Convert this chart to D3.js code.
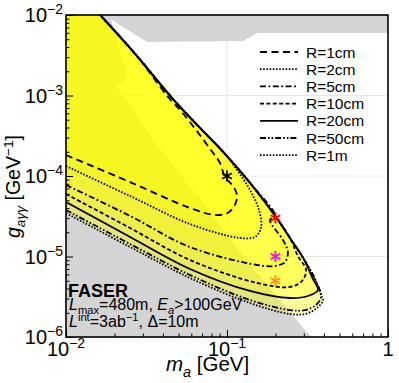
<!DOCTYPE html>
<html>
<head>
<meta charset="utf-8">
<script src="https://cdn.jsdelivr.net/npm/d3@7"></script>
<style>
  body { margin: 0; background: #fff; }
  text { font-family: "Liberation Sans", Arial, sans-serif; fill: #000; }
</style>
</head>
<body>
<script>
"use strict"

// shared upper edge of the sensitivity regions, from the tip up to the top of the frame
const boundary = [[0.389, 3.1e-6], [0.352, 5.25e-6], [0.297, 9.6e-6], [0.246, 1.7e-5], [0.199, 3.2e-5],
                  [0.139, 8.2e-5], [0.0945, 2.0e-4], [0.068, 3.95e-4], [0.0456, 9.3e-4], [0.0272, 3.2e-3], [0.0163, 1e-2]];

// each contour: lower branch, tip and the start of the upper branch (m_a [GeV], g [1/GeV])
const r1cm  = [[0.01, 1.82e-4], [0.025, 8.4e-5], [0.0589, 4.0e-5], [0.0842, 3.28e-5], [0.101, 3.47e-5], [0.112, 4.36e-5],
               [0.1154, 5.8e-5], [0.109, 7.5e-5], [0.0972, 9.7e-5], [0.0905, 1.45e-4], [0.0795, 2.1e-4], [0.0642, 3.73e-4],
               [0.0511, 6.6e-4], [0.043, 9.6e-4]];
const r2cm  = [[0.01, 1.33e-4], [0.025, 5.64e-5], [0.0589, 2.53e-5], [0.12, 1.70e-5], [0.149, 1.75e-5], [0.1626, 2.26e-5],
               [0.158, 3.78e-5], [0.139, 6.7e-5], [0.1154, 1.19e-4]];
const r5cm  = [[0.01, 7.73e-5], [0.025, 3.19e-5], [0.0589, 1.31e-5], [0.1536, 7.84e-6], [0.199, 7.62e-6], [0.229, 8.5e-6],
               [0.239, 1.14e-5], [0.2228, 1.6e-5], [0.185, 2.84e-5]];
const r10cm = [[0.01, 5.98e-5], [0.025, 2.26e-5], [0.0589, 9.05e-6], [0.1536, 4.69e-6], [0.246, 4.18e-6], [0.292, 4.96e-6],
               [0.31, 6.8e-6], [0.276, 1.01e-5]];
const r20cm = [[0.01, 4.75e-5], [0.025, 1.75e-5], [0.0589, 7.0e-6], [0.139, 3.73e-6], [0.246, 3.05e-6], [0.318, 3.23e-6],
               [0.367, 3.84e-6], [0.342, 5.25e-6]];
const r50cm = [[0.01, 3.78e-5], [0.025, 1.43e-5], [0.0589, 5.89e-6], [0.139, 2.88e-6], [0.246, 2.16e-6], [0.305, 2.16e-6],
               [0.357, 2.5e-6], [0.3835, 3.14e-6]];
const r1m   = [[0.01, 3.47e-5], [0.025, 1.31e-5], [0.0589, 5.41e-6], [0.139, 2.64e-6], [0.246, 1.93e-6], [0.305, 1.93e-6],
               [0.362, 2.29e-6], [0.395, 2.85e-6]];

const radiusLabels = ["R=1cm", "R=2cm", "R=5cm", "R=10cm", "R=20cm", "R=50cm", "R=1m"];
const contours = [r1cm, r2cm, r5cm, r10cm, r20cm, r50cm, r1m];

// excluded regions (gray)
const excludedLow = [[0.01, 1e-2], [0.01877, 1e-2], [0.02104, 4.24e-3], [0.02428, 1.70e-3], [0.02045, 1.31e-3],
                     [0.0347, 2.8e-4], [0.0615, 6.7e-5], [0.139, 7.84e-6], [0.3324, 1e-6], [0.01, 1e-6]];
const excludedTop = [[0.01722, 1e-2], [0.03185, 4.62e-3], [0.1257, 4.75e-3], [0.1536, 5.98e-3], [1, 5.98e-3], [1, 1e-2]];

// benchmark points
const benchMass = [0.1, 0.2, 0.2, 0.2];
const benchCoupling = [1e-4, 3e-5, 1e-5, 5e-6];

const xMajor = [0.01, 0.1, 1];
const xMajorExp = ["−2", "−1", ""];
const yMajor = [1e-6, 1e-5, 1e-4, 1e-3, 1e-2];
const yMajorExp = ["−6", "−5", "−4", "−3", "−2"];
const gridX = [0.1];
const gridY = [1e-3, 1e-4, 1e-5];

// styles
const dashes = ["7,4.5", "1.6,1.6", "6,2.5,1.8,2.5", "4,2.4", null, "6,2,1.6,2,1.6,2", "1.6,1.6"];
const benchColor = ["#000000", "#ff0000", "#ff00ff", "#ff8c1a"];

const W = 399, H = 383;
const pLeft = 66, pRight = 388, pTop = 15, pBottom = 337;

const svg = d3.select("body").append("svg").attr("width", W).attr("height", H);
const x = d3.scaleLog().domain([0.01, 1]).range([pLeft, pRight]);
const y = d3.scaleLog().domain([1e-6, 1e-2]).range([pBottom, pTop]);

svg.append("defs").append("clipPath").attr("id", "plotclip")
  .append("rect").attr("x", pLeft).attr("y", pTop).attr("width", pRight - pLeft).attr("height", pBottom - pTop);

const plot = svg.append("g").attr("clip-path", "url(#plotclip)");

// grid
plot.selectAll(".gx").data(gridX).enter().append("line")
  .attr("x1", d => x(d)).attr("x2", d => x(d)).attr("y1", pTop).attr("y2", pBottom)
  .attr("stroke", "#e6e6e6").attr("stroke-width", 1);
plot.selectAll(".gy").data(gridY).enter().append("line")
  .attr("y1", d => y(d)).attr("y2", d => y(d)).attr("x1", pLeft).attr("x2", pRight)
  .attr("stroke", "#e6e6e6").attr("stroke-width", 1);

const poly = d3.line().x(d => x(d[0])).y(d => y(d[1]));
plot.append("path").attr("d", poly(excludedLow) + "Z").attr("fill", "#d4d4d4");
plot.append("path").attr("d", poly(excludedTop) + "Z").attr("fill", "#d4d4d4");

const curve = d3.line().x(d => x(d[0])).y(d => y(d[1])).curve(d3.curveCatmullRom.alpha(0.5));

// full closed contour: own points then the shared upper edge
function fullContour(own) {
  const last = own[own.length - 1];
  return own.concat(boundary.filter(b => b[1] > last[1]));
}

// translucent yellow fills, stacked
contours.forEach(function(c) {
  plot.append("path")
    .attr("d", curve(fullContour(c)) + "L" + x(0.01) + "," + y(0.01) + "Z")
    .attr("fill", "#ffff00").attr("fill-opacity", 0.22).attr("stroke", "none");
});

// contour lines
contours.forEach(function(c, i) {
  plot.append("path")
    .attr("d", curve(fullContour(c)))
    .attr("fill", "none").attr("stroke", "#000").attr("stroke-width", 1.8)
    .attr("stroke-dasharray", dashes[i]);
});

// benchmark stars
const star = d3.symbol().type(d3.symbolAsterisk).size(85);
benchMass.forEach(function(m, i) {
  plot.append("path").attr("d", star())
    .attr("transform", "translate(" + x(m) + "," + y(benchCoupling[i]) + ")")
    .attr("fill", "none").attr("stroke", benchColor[i]).attr("stroke-width", 1.8);
});

// ticks (inward)
const xMinor = x.ticks().filter(v => xMajor.indexOf(v) < 0);
const yMinor = y.ticks().filter(v => yMajor.indexOf(v) < 0);
function tickAxis(axis) {
  const g = svg.append("g").call(axis);
  g.select(".domain").remove();
  g.selectAll(".tick line").attr("stroke", "#000").attr("stroke-width", 1);
  return g;
}
tickAxis(d3.axisBottom(x).tickValues(xMinor).tickSize(-3.5).tickFormat("")).attr("transform", "translate(0," + pBottom + ")");
tickAxis(d3.axisBottom(x).tickValues(xMajor).tickSize(-7).tickFormat("")).attr("transform", "translate(0," + pBottom + ")");
tickAxis(d3.axisLeft(y).tickValues(yMinor).tickSize(-3.5).tickFormat("")).attr("transform", "translate(" + pLeft + ",0)");
tickAxis(d3.axisLeft(y).tickValues(yMajor).tickSize(-7).tickFormat("")).attr("transform", "translate(" + pLeft + ",0)");

// frame
svg.append("rect").attr("x", pLeft).attr("y", pTop).attr("width", pRight - pLeft).attr("height", pBottom - pTop)
  .attr("fill", "none").attr("stroke", "#000").attr("stroke-width", 1.6);

// text with sub/superscripts
function rich(g, px, py, parts, size, anchor) {
  const t = g.append("text").attr("x", px).attr("y", py)
    .attr("font-size", size).attr("text-anchor", anchor || "start");
  let shift = 0;
  parts.forEach(function(p) {
    let target = 0, fs = size;
    if (p.sub) { target = size * 0.28; fs = size * 0.7; }
    if (p.sup) { target = -size * 0.38; fs = size * 0.7; }
    const s = t.append("tspan").text(p.t).attr("font-size", fs).attr("dy", target - shift);
    if (p.i) s.attr("font-style", "italic");
    shift = target;
  });
  return t;
}

// tick labels
yMajor.forEach(function(v, i) {
  rich(svg, 63, y(v) + 7, [{t: "10"}, {t: yMajorExp[i], sup: true}], 20, "end");
});
xMajor.forEach(function(v, i) {
  const parts = xMajorExp[i] ? [{t: "10"}, {t: xMajorExp[i], sup: true}] : [{t: "1"}];
  rich(svg, x(v), 356, parts, 20, "middle");
});

// axis titles
rich(svg, 166, 371, [{t: "m", i: true}, {t: "a", i: true, sub: true}, {t: " [GeV]"}], 20.5, "start");
rich(svg, 0, 0, [{t: "g", i: true}, {t: "aγγ", i: true, sub: true}, {t: " [GeV"}, {t: "−1", sup: true}, {t: "]"}], 19.5, "start")
  .attr("transform", "translate(20,238) rotate(-90)");

// legend
const legend = svg.append("g");
radiusLabels.forEach(function(lab, i) {
  const ry = 52 + i * 17.2;
  legend.append("line").attr("x1", 260).attr("x2", 298).attr("y1", ry).attr("y2", ry)
    .attr("stroke", "#000").attr("stroke-width", 1.8).attr("stroke-dasharray", dashes[i]);
  legend.append("text").attr("x", 306).attr("y", ry + 5.5).attr("font-size", 15.5).text(lab);
});

// experiment annotation
svg.append("text").attr("x", 68).attr("y", 297).attr("font-size", 18).attr("font-weight", "bold").text("FASER");
rich(svg, 69, 310, [{t: "L", i: true}, {t: "max", sub: true}, {t: "=480m, "}, {t: "E", i: true}, {t: "a", i: true, sub: true}, {t: ">100GeV"}], 16, "start");
rich(svg, 69, 327, [{t: "L", i: true}, {t: "int", sup: true}, {t: "=3ab"}, {t: "−1", sup: true}, {t: ", Δ=10m"}], 16, "start");
</script>
</body>
</html>
